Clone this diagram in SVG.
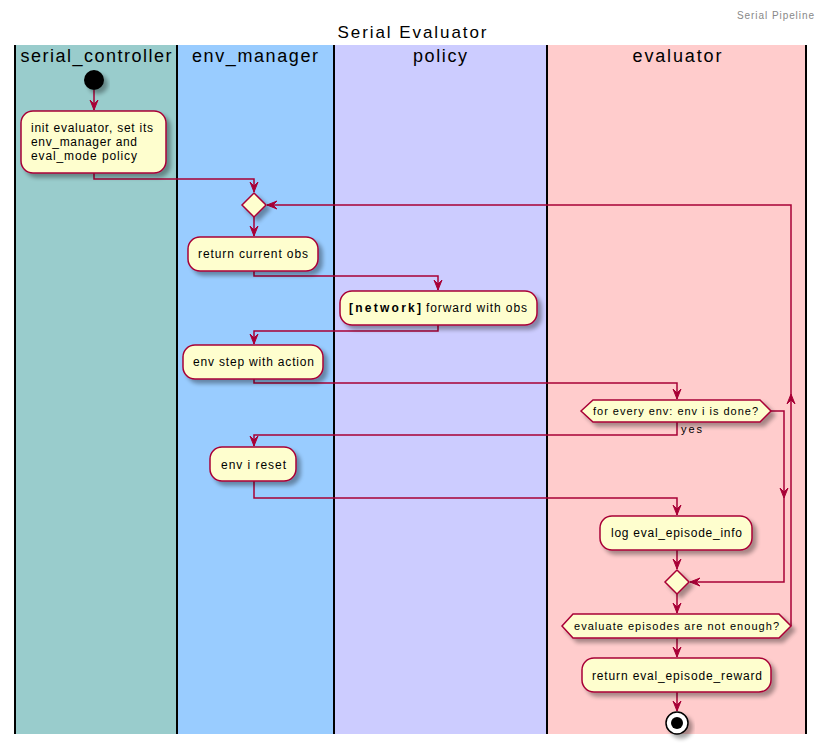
<svg xmlns="http://www.w3.org/2000/svg" width="826" height="751" viewBox="0 0 826 751">
<style>
text{font-family:"Liberation Sans",Arial,sans-serif;fill:#000}
.lane{stroke:none}
.lb{stroke:#000;stroke-width:2}
.act{fill:#FEFECE;stroke:#A80036;stroke-width:1.5;filter:url(#sh)}
.c{fill:none;stroke:#A80036;stroke-width:1.5}
.a{fill:none;stroke:#A80036;stroke-width:1.5;marker-end:url(#ah)}
.t{font-size:12px}
.h{font-size:11px}
.lt{font-size:18px;text-anchor:middle}
</style>
<defs>
<filter id="sh" x="-20%" y="-20%" width="150%" height="160%">
<feGaussianBlur in="SourceAlpha" stdDeviation="2"/>
<feOffset dx="4" dy="4" result="o"/>
<feComponentTransfer><feFuncA type="linear" slope="0.35"/></feComponentTransfer>
<feMerge><feMergeNode/><feMergeNode in="SourceGraphic"/></feMerge>
</filter>
<marker id="ah" viewBox="-11 -5 12 10" refX="0" refY="0" markerWidth="12" markerHeight="10" markerUnits="userSpaceOnUse" orient="auto">
<path d="M0,0 L-10,-4 L-6,0 L-10,4 Z" fill="#A80036" stroke="#A80036" stroke-width="1"/>
</marker>
</defs>
<rect width="826" height="751" fill="#fff"/>
<text x="814" y="19" style="font-size:10px;fill:#888;text-anchor:end" textLength="77">Serial Pipeline</text>
<text x="412" y="38" style="font-size:17px;text-anchor:middle" textLength="149">Serial Evaluator</text>
<g id="lanes">
<rect class="lane" x="15" y="45" width="162" height="689" fill="#99CCCC"/>
<rect class="lane" x="177" y="45" width="157" height="689" fill="#99CCFF"/>
<rect class="lane" x="334" y="45" width="213" height="689" fill="#CCCCFF"/>
<rect class="lane" x="547" y="45" width="259" height="689" fill="#FFCCCC"/>
<line class="lb" x1="15" y1="45" x2="15" y2="734"/>
<line class="lb" x1="177" y1="45" x2="177" y2="734"/>
<line class="lb" x1="334" y1="45" x2="334" y2="734"/>
<line class="lb" x1="547" y1="45" x2="547" y2="734"/>
<line class="lb" x1="806" y1="45" x2="806" y2="734"/>
<text class="lt" x="96" y="62" textLength="151">serial_controller</text>
<text class="lt" x="255" y="62" textLength="126">env_manager</text>
<text class="lt" x="440" y="62" textLength="54">policy</text>
<text class="lt" x="677" y="62" textLength="89">evaluator</text>
</g>
<g id="connectors">
<path class="a" d="M94,90 L94,110"/>
<path class="a" d="M94,173 L94,179 L254,179 L254,192"/>
<path class="a" d="M254,217 L254,236"/>
<path class="a" d="M254,271 L254,276 L438,276 L438,290"/>
<path class="a" d="M438,325 L438,331 L254,331 L254,344"/>
<path class="a" d="M254,379 L254,383 L677,383 L677,399"/>
<path class="a" d="M677,422 L677,435 L254,435 L254,446"/>
<path class="a" d="M254,481 L254,498 L677,498 L677,515"/>
<path class="a" d="M771,411 L784,411 L784,498"/>
<path class="a" d="M784,498 L784,582 L690,582"/>
<path class="a" d="M677,550 L677,569"/>
<path class="a" d="M677,594 L677,613"/>
<path class="a" d="M791,626 L791,394"/>
<path class="a" d="M791,394 L791,205 L267,205"/>
<path class="a" d="M677,638 L677,657"/>
<path class="a" d="M677,692 L677,711"/>
<text x="681" y="433" style="font-size:11px" textLength="21">yes</text>
</g>
<g id="start"><circle cx="94" cy="80" r="10" fill="#000" filter="url(#sh)"/></g>
<g id="init">
<rect class="act" x="21" y="111" width="145" height="62" rx="12"/>
<text class="t" x="31" y="132" textLength="122">init evaluator, set its</text>
<text class="t" x="31" y="146" textLength="106">env_manager and</text>
<text class="t" x="31" y="160" textLength="106">eval_mode policy</text>
</g>
<g id="merge1"><polygon class="act" points="254,193 266,205 254,217 242,205"/></g>
<g id="return_obs">
<rect class="act" x="188" y="237" width="130" height="34" rx="12"/>
<text class="t" x="198" y="258" textLength="110">return current obs</text>
</g>
<g id="forward">
<rect class="act" x="340" y="291" width="197" height="34" rx="12"/>
<text class="t" x="349" y="312" style="font-weight:bold" textLength="72">[network]</text>
<text class="t" x="426" y="312" textLength="101">forward with obs</text>
</g>
<g id="env_step">
<rect class="act" x="183" y="345" width="140" height="34" rx="12"/>
<text class="t" x="193" y="366" textLength="121">env step with action</text>
</g>
<g id="done_check">
<polygon class="act" points="581,411 593,400 760,400 771,411 760,422 593,422"/>
<text class="h" x="593" y="415" textLength="165">for every env: env i is done?</text>
</g>
<g id="env_reset">
<rect class="act" x="210" y="447" width="86" height="34" rx="12"/>
<text class="t" x="221" y="469" textLength="65">env i reset</text>
</g>
<g id="log_info">
<rect class="act" x="600" y="516" width="152" height="34" rx="12"/>
<text class="t" x="611" y="537" textLength="131">log eval_episode_info</text>
</g>
<g id="merge2"><polygon class="act" points="677,570 689,582 677,594 665,582"/></g>
<g id="enough_check">
<polygon class="act" points="562,626 573,614 779,614 791,626 779,638 573,638"/>
<text class="h" x="574" y="630" textLength="205">evaluate episodes are not enough?</text>
</g>
<g id="return_reward">
<rect class="act" x="582" y="658" width="189" height="34" rx="12"/>
<text class="t" x="592" y="680" textLength="170">return eval_episode_reward</text>
</g>
<g id="end">
<circle cx="677" cy="723" r="11" fill="#fff" stroke="#000" stroke-width="1.5" filter="url(#sh)"/>
<circle cx="677" cy="723" r="6" fill="#000"/>
</g>
</svg>
